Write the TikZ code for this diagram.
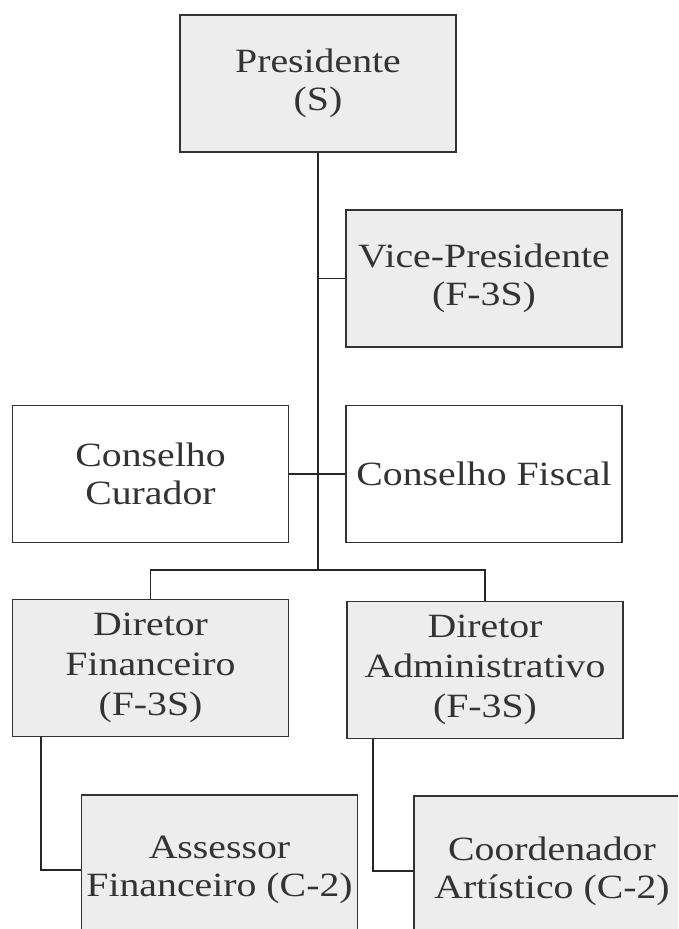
\documentclass[tikz,border=0pt]{standalone}
\usepackage{fontspec}
\setmainfont{Liberation Serif}[FakeStretch=1.17]
\begin{document}
\begin{tikzpicture}[x=1pt,y=-1pt,
  box/.style={draw=black!80, line width=1.6pt, minimum width=276pt, minimum height=137pt,
    align=center, inner sep=0pt, font=\fontsize{34}{38}\selectfont, text=black!80},
  gbox/.style={box, fill=black!7},
  wbox/.style={box, fill=white},
  conn/.style={draw=black!85, line width=1.6pt}]
\useasboundingbox (0,0) rectangle (678,929);
\clip (0,0) rectangle (678,929);
\fill[white] (0,0) rectangle (678,929);
% nodes
\node[gbox] (pres) at (318,83.5) {Presidente\\(S)};
\node[gbox] (vice) at (484,278.5) {Vice-Presidente\\(F-3S)};
\node[wbox] (cur) at (150.5,474) {Conselho\\Curador};
\node[wbox] (fisc) at (484,474) {Conselho Fiscal};
\node[gbox, font=\fontsize{34}{40}\selectfont] (dirf) at (150.5,668) {Diretor\\Financeiro\\(F-3S)};
\node[gbox, font=\fontsize{34}{40}\selectfont] (dira) at (485,670) {Diretor\\Administrativo\\(F-3S)};
\node[gbox, minimum height=150pt] (ass) at (219.5,870) {Assessor\\Financeiro (C-2)};
\node[gbox, minimum height=150pt] (coord) at (552,871) {Coordenador\\Artístico (C-2)};
% coordinates
\coordinate (tb) at (318,570);
\coordinate (fdrop) at (41,737);
\coordinate (adrop) at (373,739);
% connectors
\draw[conn] (pres.south) -- (tb);
\draw[conn] (tb |- vice.west) -- (vice.west);
\draw[conn] (cur.east) -- (fisc.west);
\draw[conn] (dirf.north) |- (tb) -| (dira.north);
\draw[conn] (fdrop) |- (ass.west);
\draw[conn] (adrop) |- (coord.west);
\end{tikzpicture}
\end{document}
